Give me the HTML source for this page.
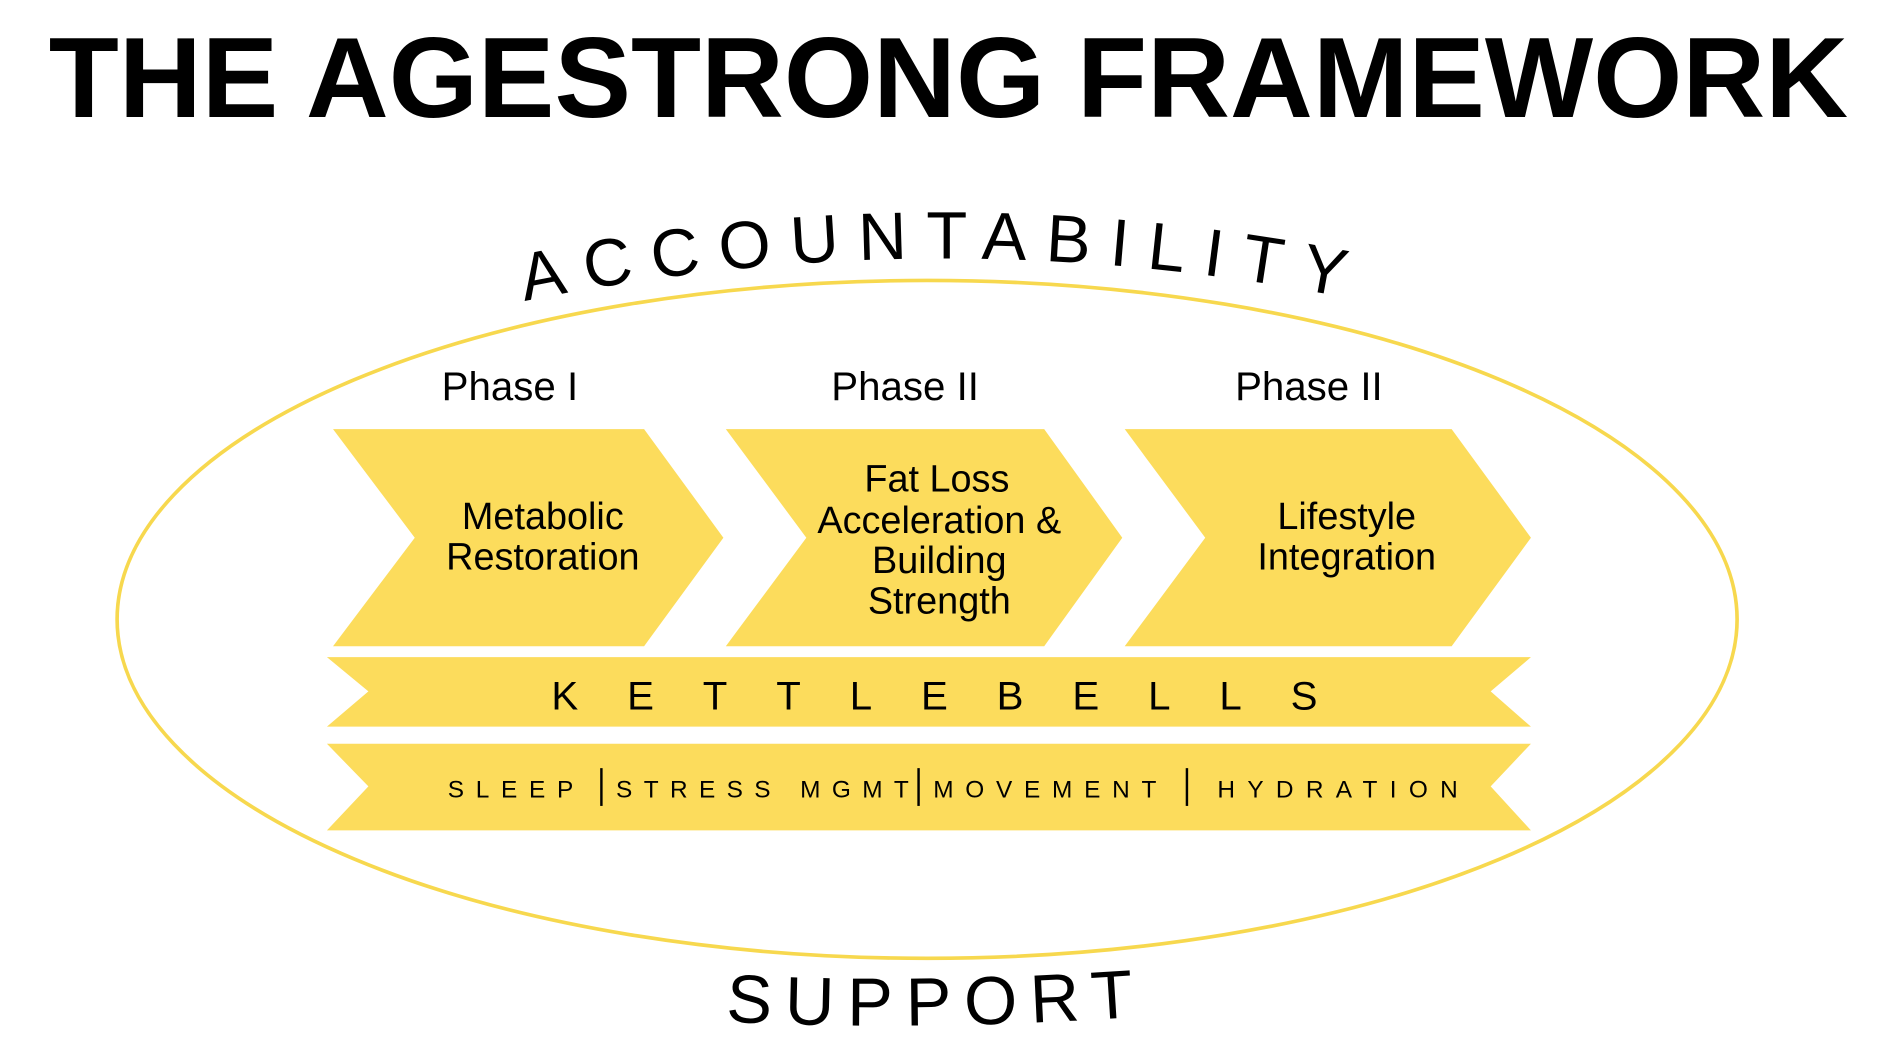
<!DOCTYPE html>
<html><head><meta charset="utf-8"><style>
html,body{margin:0;padding:0;background:#fff;width:1903px;height:1051px;overflow:hidden}
svg{display:block}
text{font-family:"Liberation Sans",sans-serif;fill:#000}
</style></head><body>
<svg width="1903" height="1051" viewBox="0 0 1560 862" preserveAspectRatio="none" xmlns="http://www.w3.org/2000/svg">
<text x="40" y="96" font-size="94" font-weight="bold" textLength="1475" lengthAdjust="spacingAndGlyphs">THE AGESTRONG FRAMEWORK</text>
<ellipse cx="760" cy="508" rx="664" ry="278" fill="none" stroke="#f7d84e" stroke-width="3"/>
<path id="arc" d="M430,247 Q768,178 1108,245" fill="none"/>
<text font-size="55"><textPath href="#arc" textLength="675" lengthAdjust="spacing">ACCOUNTABILITY</textPath></text>
<g font-size="33" text-anchor="middle">
<text x="418" y="328">Phase I</text>
<text x="742" y="328">Phase II</text>
<text x="1073" y="328">Phase II</text>
</g>
<g fill="#fcdc5c">
<polygon points="273,352 528,352 593,441 528,530 273,530 340,441"/>
<polygon points="595,352 856,352 920,441 856,530 595,530 661,441"/>
<polygon points="922,352 1190,352 1255,441 1190,530 922,530 988,441"/>
<polygon points="268,539 1255,539 1222,567 1255,596 268,596 302,567"/>
<polygon points="268,610 1255,610 1222,645 1255,681 268,681 302,645"/>
</g>
<g font-size="31" text-anchor="middle">
<text x="445" y="434">Metabolic</text>
<text x="445" y="467">Restoration</text>
<text x="768" y="403">Fat Loss</text>
<text x="770" y="437">Acceleration &amp;</text>
<text x="770" y="470">Building</text>
<text x="770" y="503">Strength</text>
<text x="1104" y="434">Lifestyle</text>
<text x="1104" y="467">Integration</text>
</g>
<text x="452" y="582" font-size="33" textLength="628" lengthAdjust="spacing">KETTLEBELLS</text>
<g font-size="20">
<text x="367" y="654" textLength="103" lengthAdjust="spacing">SLEEP</text>
<text x="505" y="654" textLength="240" lengthAdjust="spacing">STRESS MGMT</text>
<text x="765" y="654" textLength="183" lengthAdjust="spacing">MOVEMENT</text>
<text x="998" y="654" textLength="197" lengthAdjust="spacing">HYDRATION</text>
</g>
<g stroke="#000" stroke-width="2">
<line x1="493" y1="630" x2="493" y2="661"/>
<line x1="753" y1="630" x2="753" y2="661"/>
<line x1="973" y1="630" x2="973" y2="661"/>
</g>
<path id="arc2" d="M595,838 Q760,846 932,834" fill="none"/>
<text font-size="56"><textPath href="#arc2" textLength="335" lengthAdjust="spacing">SUPPORT</textPath></text>
</svg>
</body></html>
